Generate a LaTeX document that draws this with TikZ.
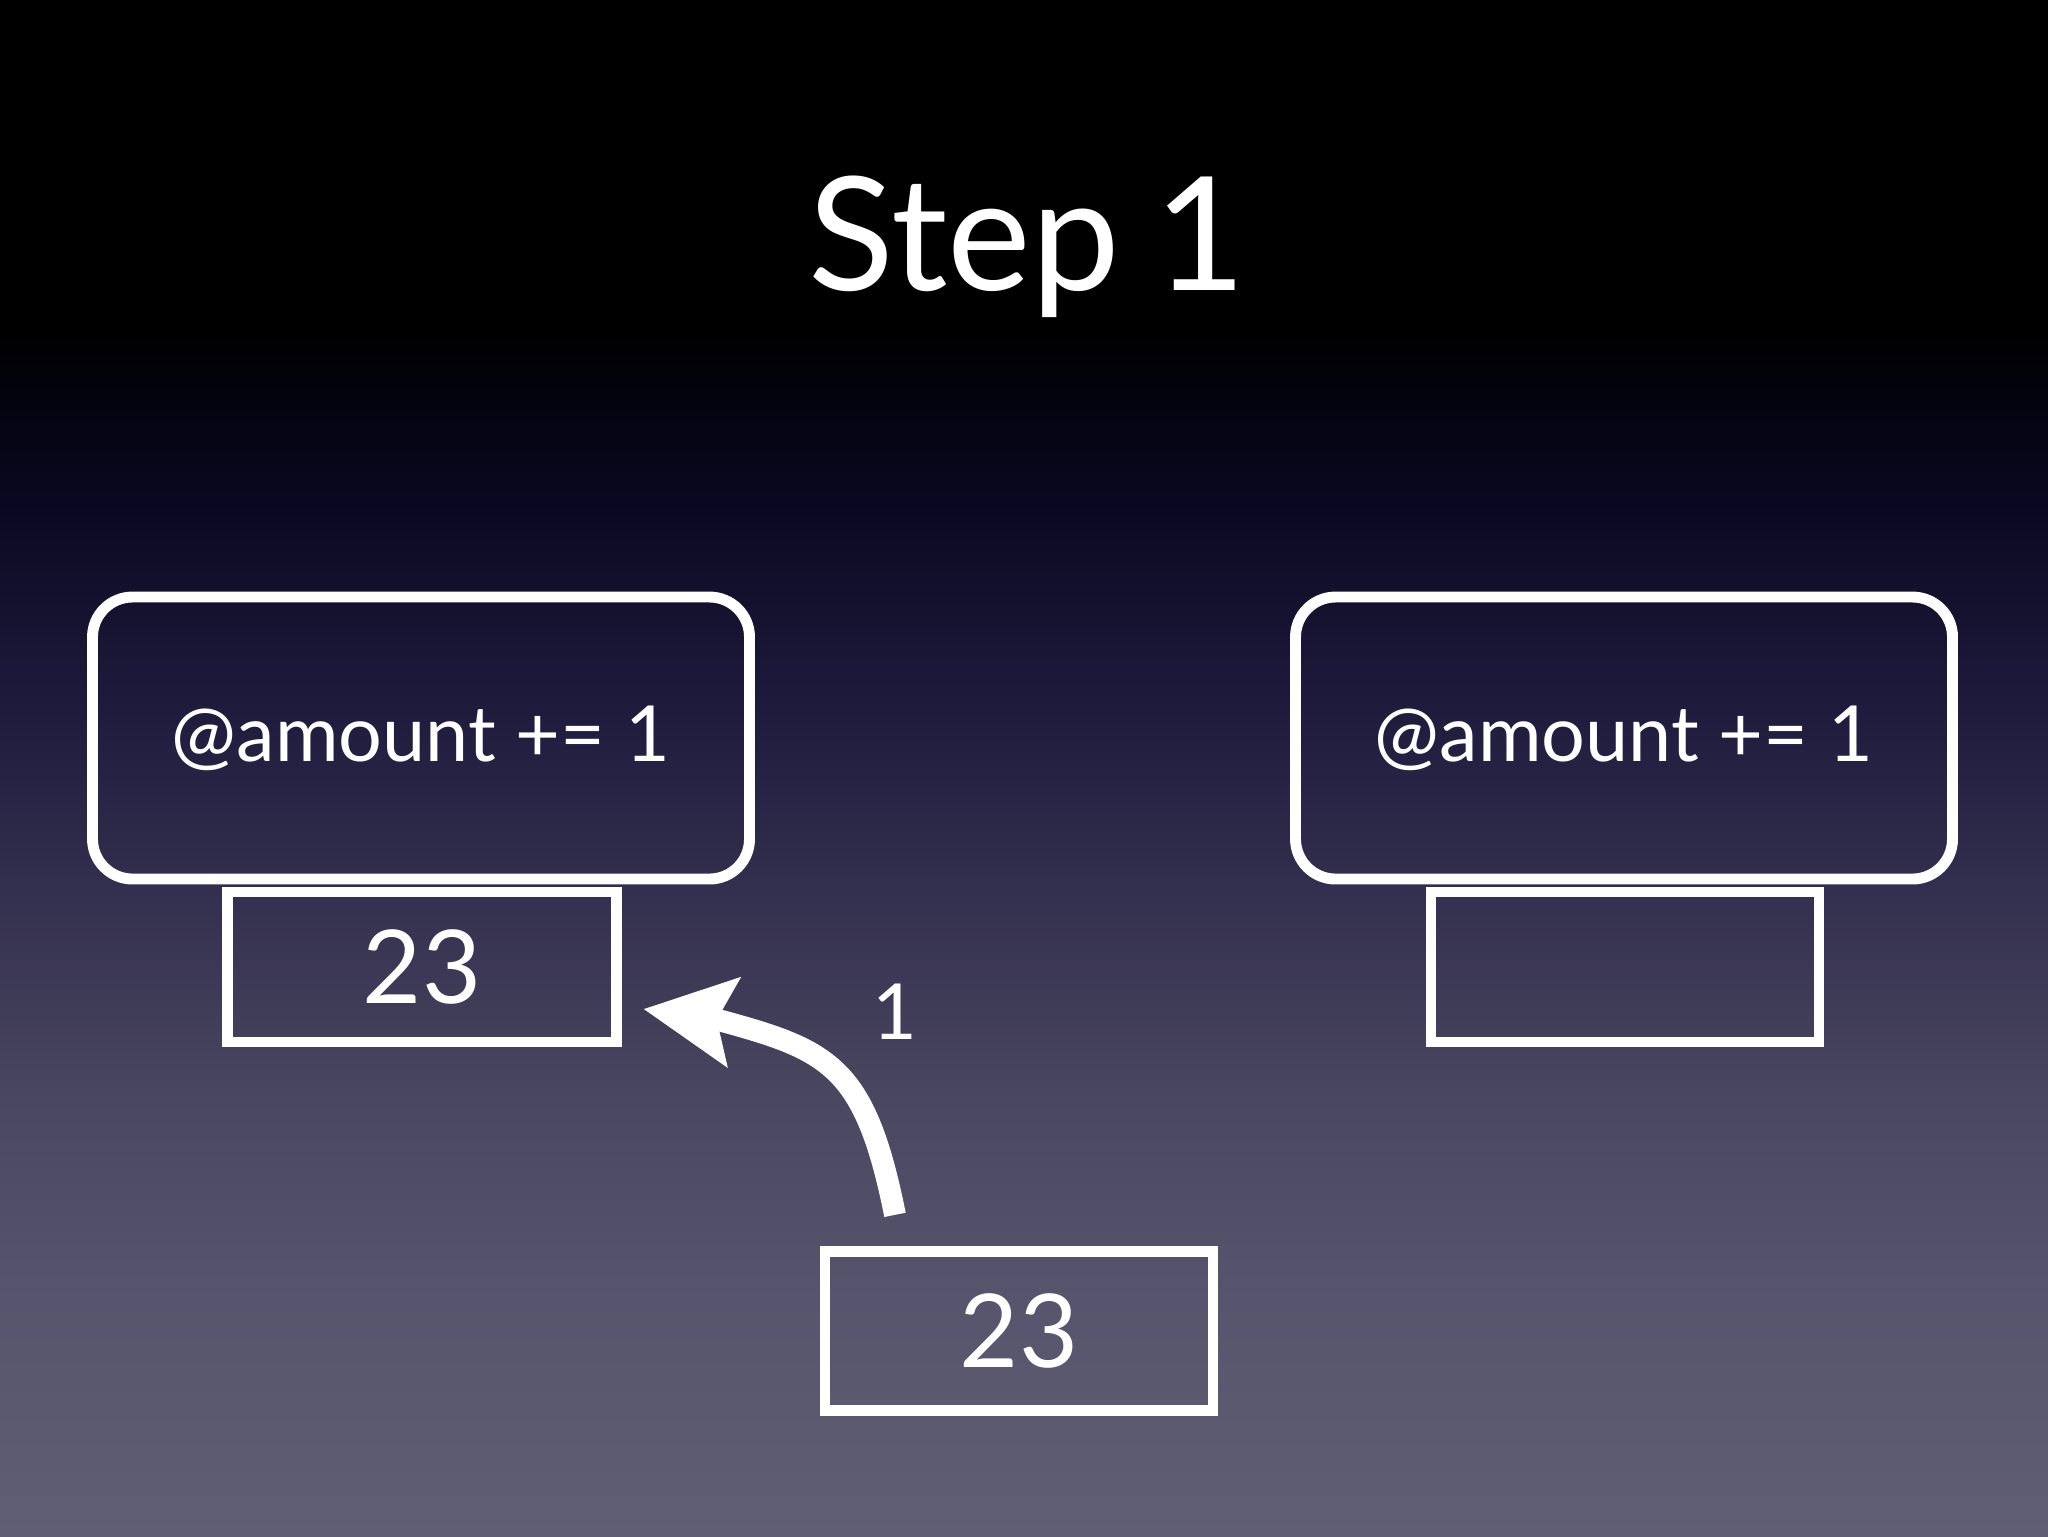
\documentclass[tikz,border=0pt]{standalone}
\usepackage{fontspec}
\setmainfont{Lato}
\usetikzlibrary{arrows.meta}
\definecolor{bgE}{HTML}{605E74}
\definecolor{bgD}{HTML}{57556D}
\definecolor{bgC}{HTML}{4A4760}
\definecolor{bgB}{HTML}{34304F}
\definecolor{bgA}{HTML}{1E1A3C}
\definecolor{bgN}{HTML}{0A0820}
\definecolor{bgM}{HTML}{040412}
\pgfdeclareverticalshading{slidebg}{100bp}{color(0bp)=(bgE); color(25bp)=(bgE); color(32.7bp)=(bgD); color(39.2bp)=(bgC); color(45.7bp)=(bgB); color(52.2bp)=(bgA); color(58.7bp)=(bgN); color(61.3bp)=(bgM); color(64.3bp)=(black); color(100bp)=(black)}
\tikzset{
  bigbox/.style={draw=white, line width=3.1pt, rounded corners=4mm, inner sep=0pt, text=white, font=\fontsize{22}{26}\selectfont},
  smallbox/.style={draw=white, line width=3.1pt, inner sep=0pt, text=white, font=\fontsize{29}{34}\selectfont},
  lbl/.style={text=white, inner sep=0pt},
  flow/.style={white, line width=6.2pt, -{Stealth[length=9mm, width=8.8mm, inset=1.6mm]}}
}
\begin{document}
\begin{tikzpicture}[x=0.1mm, y=-0.1mm]
\path[shading=slidebg] (0,0) rectangle (2048,1536);
\useasboundingbox (0,0) rectangle (2048,1536);
\node[lbl, font=\fontsize{45}{50}\selectfont, anchor=base west] (title) at (808,290) {Step\hspace{0.22em}1};
\node[bigbox, minimum width=65.7mm, minimum height=28.2mm] (lbig) at (421,738) {@amount += 1};
\node[bigbox, minimum width=65.7mm, minimum height=28.2mm] (rbig) at (1624,738) {@amount += 1};
\node[smallbox, minimum width=38.9mm, minimum height=15.0mm] (lsmall) at (422,967) {23};
\node[smallbox, minimum width=38.8mm, minimum height=15.0mm] (rsmall) at (1625,967) {};
\node[smallbox, minimum width=38.8mm, minimum height=15.85mm] (bot) at (1019,1331) {23};
\node[lbl, font=\fontsize{22}{26}\selectfont, anchor=base] (one) at (895,1039) {1};
\draw[flow] ([shift={(-124,-31.5)}]bot.north) .. controls +(-30,-150) and +(110,30) .. ([shift={(96.5,53)}]lsmall.east) -- ([shift={(21.5,42)}]lsmall.east);
\end{tikzpicture}
\end{document}
